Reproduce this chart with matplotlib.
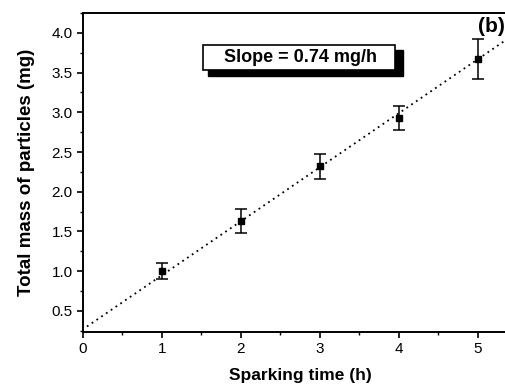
import matplotlib
matplotlib.use('Agg')
import matplotlib.pyplot as plt
from matplotlib.patches import Rectangle
from matplotlib.ticker import MultipleLocator
import numpy as np

# values
time_h = [1, 2, 3, 4, 5]
mass_mg = [1.00, 1.63, 2.32, 2.93, 3.67]
mass_err = [0.10, 0.15, 0.16, 0.15, 0.25]
fit_intercept = 0.27
fit_slope = 0.68
slope_label = 'Slope = 0.74 mg/h'

plt.rcParams['font.family'] = ['Liberation Sans', 'DejaVu Sans']

W, H = 506, 385
fig = plt.figure(figsize=(W / 100, H / 100), dpi=100)
# axes runs past the right edge, as in the cropped original
ax = fig.add_axes([83 / W, 1 - 332 / H, 434.5 / W, 319 / H])

x_fit = np.array([0.05, 5.5])
ax.plot(x_fit, fit_intercept + fit_slope * x_fit, linestyle=(0, (1, 2.2)),
        color='black', linewidth=1.3)
ax.errorbar(time_h, mass_mg, yerr=mass_err, fmt='s', color='black',
            markersize=5, capsize=4, elinewidth=1.1, capthick=1.1)

ax.set_xlim(0, 5.5)
ax.set_ylim(0.235, 4.25)
ax.xaxis.set_minor_locator(MultipleLocator(0.5))
ax.yaxis.set_minor_locator(MultipleLocator(0.25))
ax.set_xticks([0, 1, 2, 3, 4, 5])
ax.set_yticks([0.5, 1.0, 1.5, 2.0, 2.5, 3.0, 3.5, 4.0])
ax.set_yticklabels(['0.5', '1.0', '1.5', '2.0', '2.5', '3.0', '3.5', '4.0'])
ax.tick_params(which='major', direction='out', length=4, width=1.2, labelsize=11)
ax.tick_params(which='minor', direction='out', length=2.5, width=1)
for s in ax.spines.values():
    s.set_linewidth(1.4)

ax.set_xlabel('Sparking time (h)', fontsize=12.5, fontweight='bold', labelpad=8)
ax.set_ylabel('Total mass of particles (mg)', fontsize=13.5, fontweight='bold', labelpad=12)

# slope annotation box with drop shadow
def px_rect(x0, y0, x1, y1, **kw):
    return Rectangle((x0 / W, 1 - y1 / H), (x1 - x0) / W, (y1 - y0) / H,
                     transform=fig.transFigure, **kw)

fig.add_artist(px_rect(208, 50, 403, 76, facecolor='black', edgecolor='black'))
fig.add_artist(px_rect(203, 45, 395, 70, facecolor='white', edgecolor='black', linewidth=1.2))
fig.text(300 / W, 1 - 58 / H, slope_label, ha='center', va='center',
         fontsize=13, fontweight='bold')

# panel tag at the top right corner, kept clear of the last error bar
fig.text(505 / W, 1 - 26 / H, '(b)', ha='right', va='center',
         fontsize=15, fontweight='bold')

fig.savefig('out.png', dpi=100)
